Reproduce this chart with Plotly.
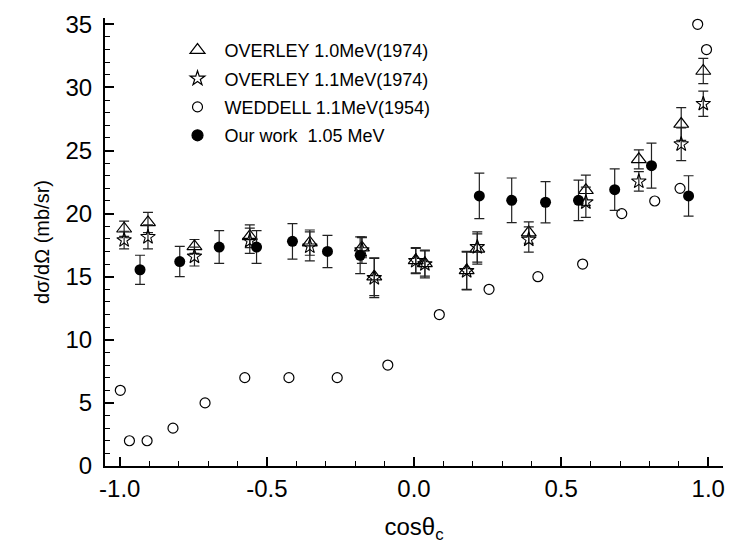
import plotly.graph_objects as go

# OVERLEY 1.0 MeV (1974) - triangles; OVERLEY 1.1 MeV (1974) - stars (same angles)
ov_x = [-0.985, -0.904, -0.746, -0.558, -0.354, -0.177, -0.135, 0.006, 0.037,
        0.179, 0.215, 0.39, 0.584, 0.764, 0.908, 0.983]
ov10_y = [18.8, 19.3, 17.4, 18.2, 17.7, 17.3, 15.0, 16.3, 16.05, 15.5, 17.2,
          18.5, 21.85, 24.3, 27.1, 31.3]
ov10_err = [0.6, 0.8, 0.55, 0.9, 1.0, 0.8, 1.5, 1.0, 1.0, 1.5, 1.2, 0.85, 1.2,
            0.75, 1.3, 1.0]
ov11_y = [17.9, 18.15, 16.6, 17.85, 17.4, 17.1, 14.9, 16.25, 16.0, 15.45, 17.35,
          17.95, 20.9, 22.55, 25.5, 28.7]
ov11_err = [0.7, 0.95, 0.75, 1.0, 1.15, 1.05, 1.55, 1.0, 1.1, 1.5, 1.2, 1.0, 1.2,
            0.77, 1.3, 1.0]

# WEDDELL 1.1 MeV (1954)
wd_x = [-0.998, -0.967, -0.907, -0.819, -0.71, -0.575, -0.425, -0.261, -0.089,
        0.086, 0.255, 0.421, 0.573, 0.706, 0.818, 0.904, 0.964, 0.994]
wd_y = [6, 2, 2, 3, 5, 7, 7, 7, 8, 12, 14, 15, 16, 20, 21, 22, 35, 33]

# Our work 1.05 MeV
ow_x = [-0.931, -0.796, -0.662, -0.535, -0.413, -0.294, -0.183, 0.222, 0.332,
        0.447, 0.559, 0.682, 0.807, 0.933]
ow_y = [15.55, 16.2, 17.35, 17.35, 17.8, 17.0, 16.7, 21.4, 21.05, 20.9, 21.05,
        21.9, 23.8, 21.4]
ow_err = [1.15, 1.2, 1.3, 1.3, 1.4, 1.28, 1.45, 1.8, 1.77, 1.63, 1.6, 1.64, 1.78,
          1.6]

labels = ["OVERLEY 1.0MeV(1974)", "OVERLEY 1.1MeV(1974)",
          "WEDDELL 1.1MeV(1954)", "Our work  1.05 MeV"]

FONT = "Arial, Liberation Sans, sans-serif"
ERRC = "#222222"

fig = go.Figure()

def err(e):
    return dict(type="data", array=e, visible=True, color=ERRC, thickness=1.2, width=5)

fig.add_trace(go.Scatter(x=ov_x, y=ov10_y, mode="markers", showlegend=False,
                         error_y=err(ov10_err),
                         marker=dict(symbol="triangle-up-open", size=13, color="black",
                                     line=dict(width=1.2, color="black"))))
fig.add_trace(go.Scatter(x=ov_x, y=ov11_y, mode="markers", showlegend=False,
                         error_y=err(ov11_err),
                         marker=dict(symbol="star-open", size=11, color="black",
                                     line=dict(width=1.1, color="black"))))
fig.add_trace(go.Scatter(x=wd_x, y=wd_y, mode="markers", showlegend=False,
                         marker=dict(symbol="circle-open", size=10, color="black",
                                     line=dict(width=1.2, color="black"))))
fig.add_trace(go.Scatter(x=ow_x, y=ow_y, mode="markers", showlegend=False,
                         error_y=err(ow_err),
                         marker=dict(symbol="circle", size=11, color="black")))

# legend-only entries
sym = [("triangle-up-open", 13), ("star-open", 11), ("circle-open", 10), ("circle", 11)]
for i, ((s, sz), lab) in enumerate(zip(sym, labels)):
    fig.add_trace(go.Scatter(x=[None], y=[None], mode="markers", name=lab,
                             legendgroup="g%d" % i,
                             marker=dict(symbol=s, size=sz, color="black",
                                         line=dict(width=1.2, color="black"))))

fig.update_layout(
    width=731, height=554,
    margin=dict(l=105, r=6, t=18, b=88),
    paper_bgcolor="white", plot_bgcolor="white",
    font=dict(family=FONT, size=20, color="black"),
    legend=dict(x=0.106, y=0.969, xanchor="left", yanchor="top",
                font=dict(size=18, family=FONT), bgcolor="rgba(0,0,0,0)",
                itemwidth=44, tracegroupgap=2),
    xaxis=dict(range=[-1.05, 1.05], tickvals=[-1.0, -0.5, 0.0, 0.5, 1.0],
               ticktext=["-1.0", "-0.5", "0.0", "0.5", "1.0"],
               ticks="inside", ticklen=9, tickwidth=1.5, tickcolor="black",
               minor=dict(ticks="inside", dtick=0.1, ticklen=5, tickwidth=1.2,
                          tickcolor="black"),
               showline=True, linecolor="black", linewidth=2,
               showgrid=False, zeroline=False, mirror=False,
               tickfont=dict(size=24),
               title=dict(text="cosθ<sub>c</sub>", font=dict(size=24), standoff=17)),
    yaxis=dict(range=[0, 35.5], tickvals=[0, 5, 10, 15, 20, 25, 30, 35],
               ticks="inside", ticklen=9, tickwidth=1.5, tickcolor="black",
               minor=dict(ticks="inside", dtick=1, ticklen=5, tickwidth=1.2,
                          tickcolor="black"),
               showline=True, linecolor="black", linewidth=2,
               showgrid=False, zeroline=False, mirror=False,
               tickfont=dict(size=24), ticklabelstandoff=6,
               title=dict(text="dσ/dΩ (mb/sr)", font=dict(size=20), standoff=10)),
)

fig.write_html("out.html")
